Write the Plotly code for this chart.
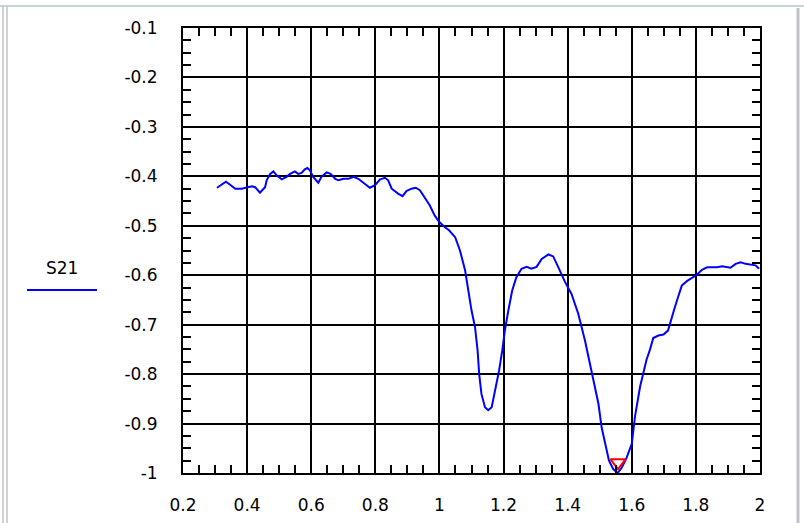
import plotly.graph_objects as go

freq = [0.306, 0.334, 0.347, 0.363, 0.383, 0.399, 0.415, 0.425, 0.440, 0.456,
        0.461, 0.472, 0.482, 0.492, 0.508, 0.523, 0.534, 0.549, 0.559, 0.570,
        0.580, 0.588, 0.596, 0.606, 0.622, 0.632, 0.648, 0.660, 0.675, 0.685,
        0.701, 0.716, 0.732, 0.747, 0.763, 0.783, 0.799, 0.815, 0.830, 0.840,
        0.851, 0.871, 0.885, 0.897, 0.913, 0.926, 0.939, 0.954, 0.970, 0.985,
        0.999, 1.017, 1.030, 1.049, 1.064, 1.080, 1.090, 1.100, 1.111, 1.119,
        1.124, 1.131, 1.142, 1.152, 1.163, 1.173, 1.186, 1.196, 1.204, 1.215,
        1.227, 1.240, 1.256, 1.272, 1.287, 1.303, 1.319, 1.340, 1.355, 1.371,
        1.392, 1.412, 1.433, 1.454, 1.470, 1.480, 1.496, 1.506, 1.517, 1.529,
        1.542, 1.556, 1.569, 1.584, 1.600, 1.610, 1.626, 1.646, 1.657, 1.667,
        1.683, 1.699, 1.713, 1.723, 1.733, 1.744, 1.756, 1.772, 1.788, 1.803,
        1.819, 1.835, 1.851, 1.866, 1.882, 1.897, 1.908, 1.924, 1.940, 1.955,
        1.971, 1.986, 1.997]
s21 = [-0.423, -0.411, -0.417, -0.425, -0.425, -0.422, -0.420, -0.422, -0.433, -0.422,
       -0.408, -0.395, -0.390, -0.398, -0.406, -0.401, -0.395, -0.390, -0.395, -0.393,
       -0.386, -0.383, -0.388, -0.401, -0.413, -0.401, -0.392, -0.395, -0.405, -0.408,
       -0.405, -0.405, -0.401, -0.405, -0.413, -0.423, -0.418, -0.406, -0.403, -0.408,
       -0.425, -0.435, -0.440, -0.430, -0.425, -0.423, -0.428, -0.442, -0.459, -0.479,
       -0.492, -0.503, -0.509, -0.523, -0.550, -0.590, -0.631, -0.671, -0.705, -0.752,
       -0.800, -0.840, -0.867, -0.873, -0.867, -0.836, -0.793, -0.752, -0.712, -0.671,
       -0.631, -0.604, -0.587, -0.583, -0.587, -0.583, -0.567, -0.558, -0.562, -0.584,
       -0.614, -0.638, -0.678, -0.732, -0.779, -0.813, -0.860, -0.908, -0.941, -0.975,
       -0.992, -1.000, -0.989, -0.969, -0.941, -0.886, -0.825, -0.771, -0.750, -0.727,
       -0.722, -0.720, -0.712, -0.692, -0.668, -0.645, -0.621, -0.612, -0.605, -0.599,
       -0.589, -0.584, -0.584, -0.584, -0.582, -0.584, -0.585, -0.577, -0.574, -0.577,
       -0.579, -0.580, -0.587]

marker_x = [1.557]
marker_y = [-0.979]

x_tickvals = [0.2, 0.4, 0.6, 0.8, 1.0, 1.2, 1.4, 1.6, 1.8, 2.0]
x_ticktext = ["0.2", "0.4", "0.6", "0.8", "1", "1.2", "1.4", "1.6", "1.8", "2"]
y_tickvals = [-0.1, -0.2, -0.3, -0.4, -0.5, -0.6, -0.7, -0.8, -0.9, -1.0]
y_ticktext = ["-0.1", "-0.2", "-0.3", "-0.4", "-0.5", "-0.6", "-0.7", "-0.8", "-0.9", "-1"]

series_name = "S21"

FONT = "DejaVu Sans, Liberation Sans, Arial, sans-serif"

fig = go.Figure()
fig.add_trace(go.Scatter(x=freq, y=s21, mode="lines", name=series_name,
                         line=dict(color="#0000ff", width=2), showlegend=False))
fig.add_trace(go.Scatter(x=marker_x, y=marker_y, mode="markers", showlegend=False,
                         marker=dict(symbol="triangle-down-open", size=13,
                                     color="#ff0000", line=dict(color="#ff0000", width=2))))

axis_common = dict(
    showgrid=True, gridcolor="black", gridwidth=2,
    showline=True, linecolor="black", linewidth=2, mirror="ticks",
    ticks="inside", ticklen=8, tickwidth=2, tickcolor="black",
    tickfont=dict(family=FONT, size=17, color="black"),
    zeroline=False, automargin=False,
)

fig.update_xaxes(range=[0.2, 2.0], tickmode="array", tickvals=x_tickvals, ticktext=x_ticktext,
                 minor=dict(dtick=0.05, tick0=0.2, ticks="inside", ticklen=8, tickwidth=2,
                            tickcolor="black", showgrid=False),
                 ticklabelstandoff=16, **axis_common)
fig.update_yaxes(range=[-1.0, -0.1], tickmode="array", tickvals=y_tickvals, ticktext=y_ticktext,
                 minor=dict(dtick=0.025, tick0=-1.0, ticks="inside", ticklen=8, tickwidth=2,
                            tickcolor="black", showgrid=False),
                 ticklabelstandoff=20, **axis_common)

# legend drawn manually: label above a line sample
fig.add_annotation(xref="paper", yref="paper", x=(62 - 183) / 577, y=(473 - 268) / 445,
                   text=series_name, showarrow=False,
                   font=dict(family=FONT, size=17, color="black"),
                   xanchor="center", yanchor="middle")
fig.add_shape(type="line", xref="paper", yref="paper",
              x0=(27 - 183) / 577, x1=(97 - 183) / 577,
              y0=(473 - 290) / 445, y1=(473 - 290) / 445,
              line=dict(color="#0000ff", width=2))

# window frame lines
frame = "#c0c4c8"
fig.add_shape(type="line", xref="paper", yref="paper",
              x0=-183 / 577, x1=(804 - 183) / 577, y0=(473 - 6) / 445, y1=(473 - 6) / 445,
              line=dict(color="#c8d4dc", width=2))
for px in (3, 7):
    fig.add_shape(type="line", xref="paper", yref="paper",
                  x0=(px - 183) / 577, x1=(px - 183) / 577,
                  y0=(473 - 523) / 445, y1=(473 - 6) / 445,
                  line=dict(color=frame, width=1.5))
fig.add_shape(type="line", xref="paper", yref="paper",
              x0=(798 - 183) / 577, x1=(798 - 183) / 577,
              y0=(473 - 523) / 445, y1=(473 - 8) / 445,
              line=dict(color=frame, width=3))

fig.update_layout(
    width=804, height=523,
    margin=dict(l=183, r=44, t=28, b=50),
    paper_bgcolor="white", plot_bgcolor="white",
    font=dict(family=FONT, size=17, color="black"),
)

fig.write_html("out.html", config={"displayModeBar": False},
               post_script="document.body.style.margin='0';document.body.style.overflow='hidden';")
